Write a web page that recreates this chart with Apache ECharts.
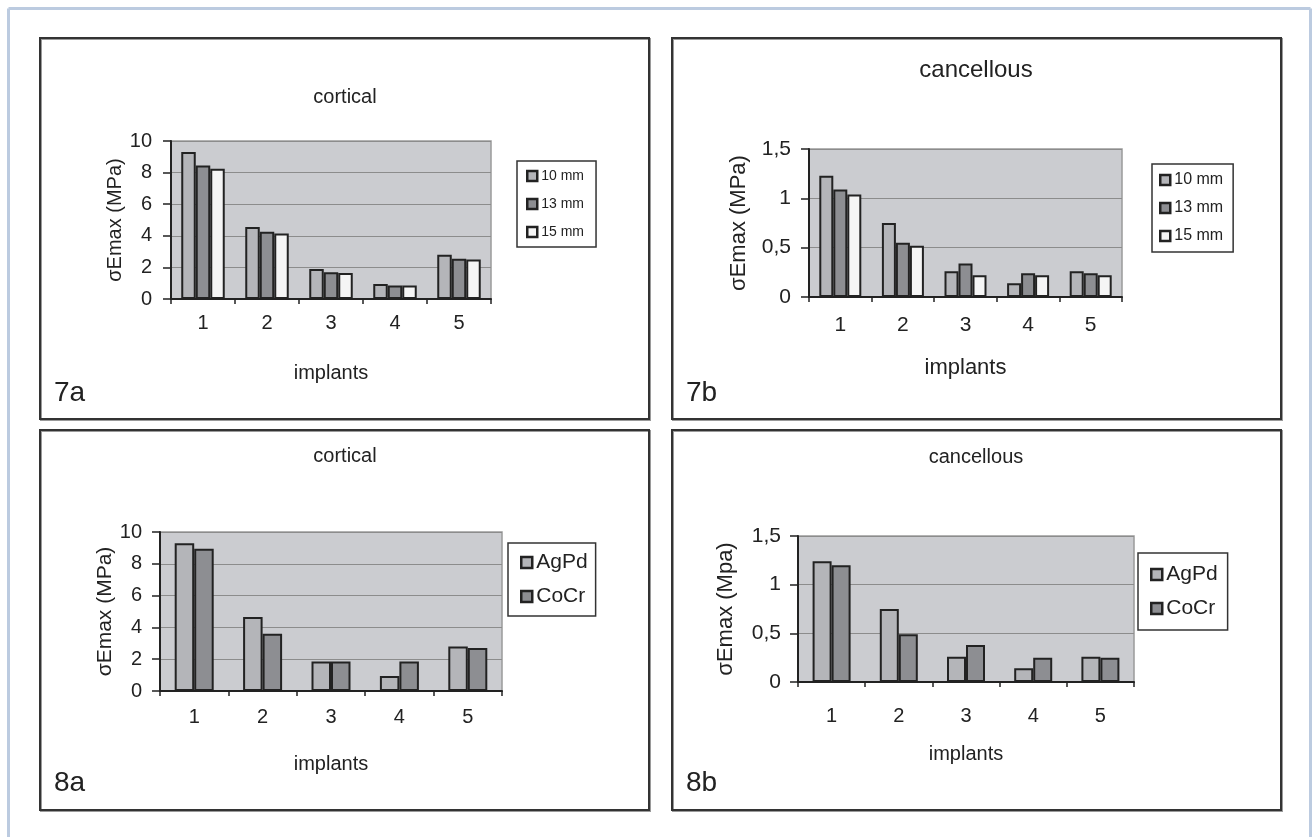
<!DOCTYPE html>
<html>
<head>
<meta charset="utf-8">
<script src="https://cdn.jsdelivr.net/npm/echarts@6/dist/echarts.min.js"></script>
<style>
html,body{margin:0;padding:0;background:#fff;}
#c{width:1313px;height:837px;}
</style>
</head>
<body>
<div id="c"></div>
<script>
const categories = ['1', '2', '3', '4', '5'];
const lengthNames = ['10 mm', '13 mm', '15 mm'];
const alloyNames = ['AgPd', 'CoCr'];

const c7a_10 = [9.3, 4.55, 1.9, 0.95, 2.8];
const c7a_13 = [8.45, 4.25, 1.7, 0.85, 2.55];
const c7a_15 = [8.25, 4.15, 1.65, 0.85, 2.5];

const c7b_10 = [1.23, 0.75, 0.26, 0.14, 0.26];
const c7b_13 = [1.09, 0.55, 0.34, 0.24, 0.24];
const c7b_15 = [1.04, 0.52, 0.22, 0.22, 0.22];

const c8a_AgPd = [9.3, 4.65, 1.85, 0.95, 2.8];
const c8a_CoCr = [8.95, 3.6, 1.85, 1.85, 2.7];

const c8b_AgPd = [1.24, 0.75, 0.26, 0.14, 0.26];
const c8b_CoCr = [1.2, 0.49, 0.38, 0.25, 0.25];

const FONT = '"Liberation Sans", Arial, Helvetica, sans-serif';
const INK = '#222';
const COL = {light: '#b4b5b9', mid: '#8d8e92', white: '#f5f5f5'};
const comma = v => String(v).replace('.', ',');

function xAx(gi, fs, margin, nameGap, nameFs) {
  return {
    type: 'category', gridIndex: gi, data: categories,
    axisLine: {lineStyle: {color: INK, width: 2}},
    axisTick: {show: true, length: 5, lineStyle: {color: INK, width: 1.5}},
    axisLabel: {color: INK, fontSize: fs, fontFamily: FONT, margin: margin},
    name: 'implants', nameLocation: 'middle', nameGap: nameGap,
    nameTextStyle: {color: INK, fontSize: nameFs, fontFamily: FONT}
  };
}
function yAx(gi, max, interval, fs, margin, name, nameGap, nameFs, fmt) {
  return {
    type: 'value', gridIndex: gi, min: 0, max: max, interval: interval,
    axisLine: {show: true, lineStyle: {color: INK, width: 2}},
    axisTick: {show: true, length: 8, lineStyle: {color: INK, width: 1.5}},
    axisLabel: {color: INK, fontSize: fs, fontFamily: FONT, margin: margin, formatter: fmt},
    splitLine: {show: true, lineStyle: {color: '#8c8c8c', width: 1}},
    name: name, nameLocation: 'middle', nameGap: nameGap, nameRotate: 90,
    nameTextStyle: {color: INK, fontSize: nameFs, fontFamily: FONT}
  };
}
function bar(name, data, idx, color, w) {
  return {
    type: 'bar', name: name, data: data, xAxisIndex: idx, yAxisIndex: idx,
    barWidth: w, barGap: '0%',
    itemStyle: {color: color, borderColor: INK, borderWidth: 2}
  };
}
function legend(names, left, top, fs, gap, icon, pad) {
  return {
    data: names, orient: 'vertical', left: left, top: top,
    itemWidth: icon, itemHeight: icon, itemGap: gap, padding: pad,
    borderColor: '#333', borderWidth: 1.5, backgroundColor: '#fff',
    icon: 'rect', selectedMode: false,
    itemStyle: {borderColor: INK, borderWidth: 2.5},
    textStyle: {color: INK, fontSize: fs, fontFamily: FONT, padding: [0, 0, 0, -1]}
  };
}
function box(x, y, w, h) {
  return [
    {type: 'rect', shape: {x: x + 1, y: y + 1, width: w, height: h}, style: {fill: null, stroke: '#9a9a9a', lineWidth: 2}, silent: true},
    {type: 'rect', shape: {x: x, y: y, width: w, height: h}, style: {fill: null, stroke: '#333', lineWidth: 2}, silent: true}
  ];
}
function label(text, x, y, fs) {
  return {type: 'text', x: x, y: y, style: {text: text, fill: INK, font: fs + 'px ' + FONT, textVerticalAlign: 'bottom'}, silent: true};
}
function frameLine(x1, y1, x2, y2) {
  return {type: 'line', shape: {x1: x1, y1: y1, x2: x2, y2: y2}, style: {stroke: '#bccbe0', lineWidth: 3}, silent: true};
}

const gridStyle = {show: true, backgroundColor: '#cbccd0', borderColor: '#9a9a9a', borderWidth: 1.5, containLabel: false};

const option = {
  backgroundColor: '#fff',
  animation: false,
  title: [
    {text: 'cortical', left: 345, top: 87, textAlign: 'center', padding: 0, textStyle: {color: INK, fontSize: 20, fontWeight: 'normal', fontFamily: FONT}},
    {text: 'cancellous', left: 976, top: 58, textAlign: 'center', padding: 0, textStyle: {color: INK, fontSize: 24, fontWeight: 'normal', fontFamily: FONT}},
    {text: 'cortical', left: 345, top: 446, textAlign: 'center', padding: 0, textStyle: {color: INK, fontSize: 20, fontWeight: 'normal', fontFamily: FONT}},
    {text: 'cancellous', left: 976, top: 447, textAlign: 'center', padding: 0, textStyle: {color: INK, fontSize: 20, fontWeight: 'normal', fontFamily: FONT}}
  ],
  grid: [
    Object.assign({left: 171, top: 141, width: 320, height: 158}, gridStyle),
    Object.assign({left: 809, top: 149, width: 313, height: 148}, gridStyle),
    Object.assign({left: 160, top: 532, width: 342, height: 159}, gridStyle),
    Object.assign({left: 798, top: 536, width: 336, height: 146}, gridStyle)
  ],
  xAxis: [
    xAx(0, 20, 14, 64, 20),
    xAx(1, 21, 18, 60, 22),
    xAx(2, 20, 16, 63, 20),
    xAx(3, 20, 24, 62, 20)
  ],
  yAxis: [
    yAx(0, 10, 2, 20, 19, 'σEmax (MPa)', 40, 20),
    yAx(1, 1.5, 0.5, 21, 18, 'σEmax (MPa)', 59, 22, comma),
    yAx(2, 10, 2, 20, 18, 'σEmax (MPa)', 41, 21),
    yAx(3, 1.5, 0.5, 21, 17, 'σEmax (Mpa)', 61, 22, comma)
  ],
  legend: [
    legend(lengthNames, 517, 161, 14, 14, 10, [8, 12, 8, 9]),
    legend(lengthNames, 1152, 164, 16, 12, 10, [8, 10, 8, 7]),
    legend(alloyNames, 508, 543, 21, 13, 11, [9, 8, 9, 12]),
    legend(alloyNames, 1138, 553, 21, 13, 11, [11, 10, 11, 12])
  ],
  series: [
    bar('10 mm', c7a_10, 0, COL.light, 14.5),
    bar('13 mm', c7a_13, 0, COL.mid, 14.5),
    bar('15 mm', c7a_15, 0, COL.white, 14.5),
    bar('10 mm', c7b_10, 1, COL.light, 14),
    bar('13 mm', c7b_13, 1, COL.mid, 14),
    bar('15 mm', c7b_15, 1, COL.white, 14),
    bar('AgPd', c8a_AgPd, 2, COL.light, 19.5),
    bar('CoCr', c8a_CoCr, 2, COL.mid, 19.5),
    bar('AgPd', c8b_AgPd, 3, COL.light, 19),
    bar('CoCr', c8b_CoCr, 3, COL.mid, 19)
  ],
  graphic: [
    frameLine(8.5, 8.5, 1310.5, 8.5),
    frameLine(8.5, 8.5, 8.5, 837),
    frameLine(1310.5, 8.5, 1310.5, 837)
  ].concat(
    box(40, 38, 609, 381),
    box(672, 38, 609, 381),
    box(40, 430, 609, 380),
    box(672, 430, 609, 380),
    [label('7a', 54, 407, 28), label('7b', 686, 407, 28), label('8a', 54, 797, 28), label('8b', 686, 797, 28)]
  )
};

const chart = echarts.init(document.getElementById('c'), null, {renderer: 'canvas'});
chart.setOption(option);
</script>
</body>
</html>
